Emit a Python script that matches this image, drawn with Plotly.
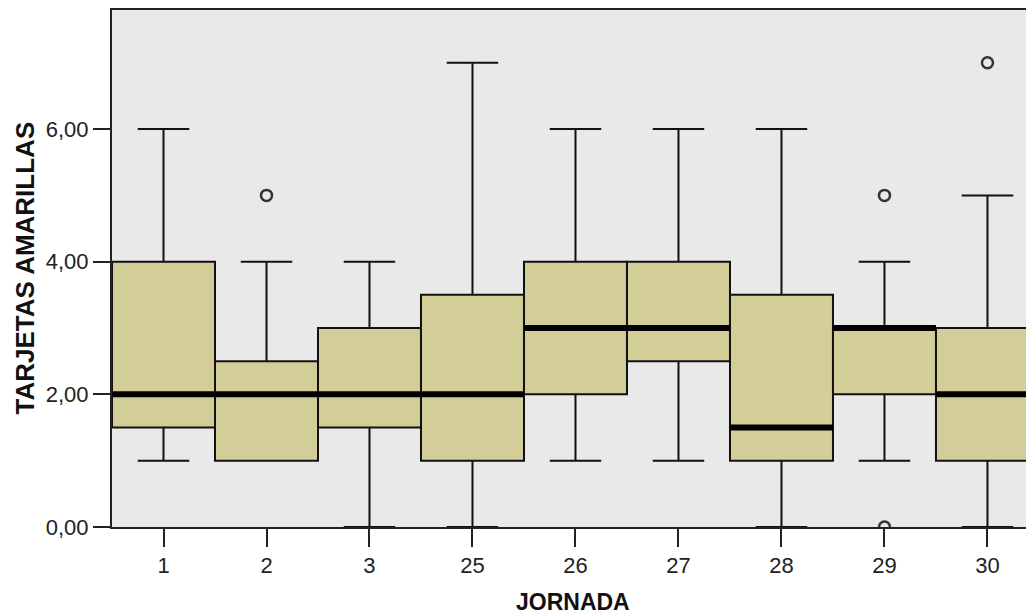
import plotly.graph_objects as go

categories = ["1", "2", "3", "25", "26", "27", "28", "29", "30"]
lower = [1, 1, 0, 0, 1, 1, 0, 1, 0]
q1 = [1.5, 1, 1.5, 1, 2, 2.5, 1, 2, 1]
median = [2, 2, 2, 2, 3, 3, 1.5, 3, 2]
q3 = [4, 2.5, 3, 3.5, 4, 4, 3.5, 3, 3]
upper = [6, 4, 4, 7, 6, 6, 6, 4, 5]
outlier_x = ["2", "29", "29", "30"]
outlier_y = [5, 5, 0, 7]
ytick_vals = [0, 2, 4, 6]
ytick_text = ["0,00", "2,00", "4,00", "6,00"]

fig = go.Figure()
fig.add_trace(go.Box(
    x=categories, q1=q1, median=median, q3=q3,
    lowerfence=lower, upperfence=upper,
    width=1, whiskerwidth=0.5,
    fillcolor="#D3CD98", line=dict(color="#111111", width=2),
    boxpoints=False, showlegend=False, hoverinfo="skip",
))
fig.add_trace(go.Scatter(
    x=outlier_x, y=outlier_y, mode="markers",
    marker=dict(symbol="circle-open", size=11, color="#333333", line=dict(width=2.5)),
    showlegend=False, hoverinfo="skip",
))
for i, m in enumerate(median):
    fig.add_shape(type="line", xref="x", yref="y", x0=i - 0.5, x1=i + 0.5, y0=m, y1=m,
                  line=dict(color="black", width=6), layer="above")

fig.update_layout(
    width=1026, height=616,
    margin=dict(l=112, r=0, t=10, b=89),
    paper_bgcolor="white", plot_bgcolor="#E9E9E9",
    font=dict(family="Liberation Sans", size=22, color="#222222"),
    showlegend=False,
)
fig.update_xaxes(
    type="category", range=[-0.5, 8.374],
    showline=True, linecolor="#222222", linewidth=2, mirror=True,
    ticks="outside", ticklen=18, tickwidth=2, tickcolor="#222222",
    showgrid=False, zeroline=False,
    tickfont=dict(family="Liberation Sans", size=22, color="#222222"),
)
fig.update_yaxes(
    range=[0, 7.795], tickvals=ytick_vals, ticktext=ytick_text,
    showline=True, linecolor="#222222", linewidth=2, mirror=False,
    ticks="outside", ticklen=17, tickwidth=2, tickcolor="#222222",
    showgrid=False, zeroline=False,
    tickfont=dict(family="Liberation Sans", size=22, color="#222222"),
)
fig.add_annotation(
    text="<b>JORNADA</b>", xref="paper", yref="paper", x=0.5, y=0,
    xanchor="center", yanchor="middle", xshift=4, yshift=-75, showarrow=False,
    font=dict(family="Liberation Sans", size=23, color="#111111"),
)
fig.add_annotation(
    text="<b>TARJETAS AMARILLAS</b>", xref="paper", yref="paper", x=0, y=0.5,
    xanchor="center", yanchor="middle", xshift=-88, textangle=-90, showarrow=False,
    font=dict(family="Liberation Sans", size=26, color="#111111"),
)

fig.write_html("out.html", config={"displayModeBar": False},
               post_script="document.body.style.margin='0';")
